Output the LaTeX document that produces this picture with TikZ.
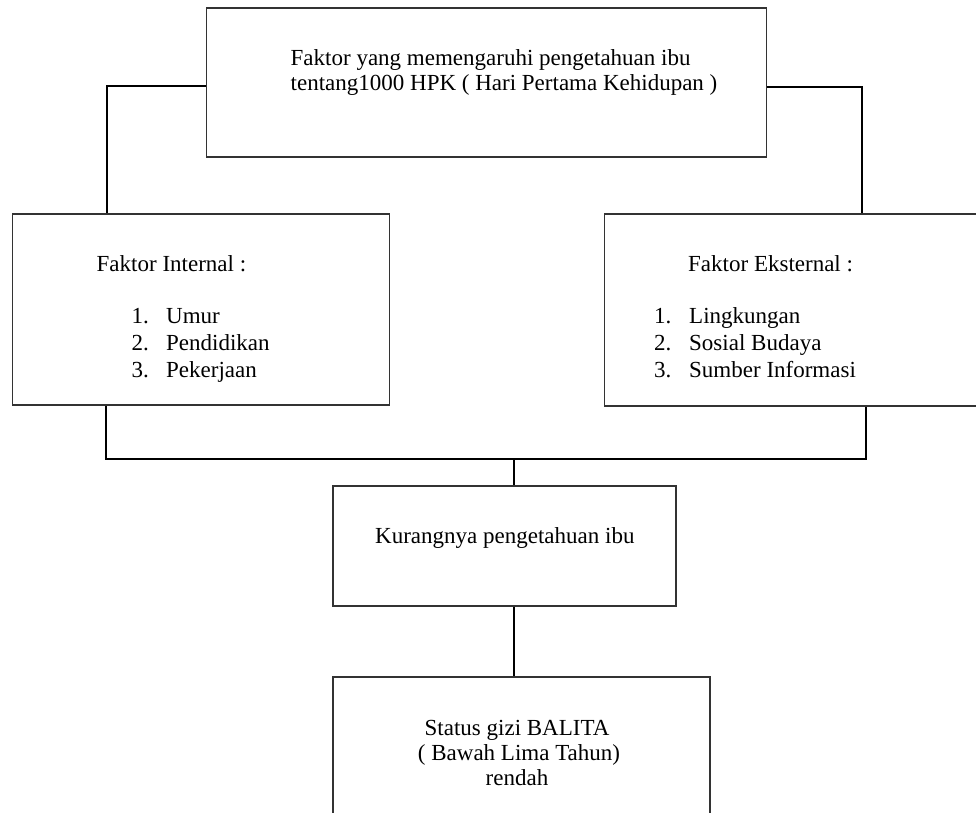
\documentclass[tikz,border=0pt]{standalone}
\usepackage{fontspec}
\setmainfont{Liberation Serif}
\begin{document}
\begin{tikzpicture}[x=1pt,y=-1pt,
  box/.style={draw=black!80,line width=1.2pt,rectangle,inner sep=0pt},
  conn/.style={draw=black,line width=2pt},
  txt/.style={inner sep=0pt,anchor=base west,font=\fontsize{23}{25}\selectfont},
  ctxt/.style={inner sep=0pt,anchor=base,font=\fontsize{23}{25}\selectfont}]
\clip (0,0) rectangle (976,812);
\fill[white] (0,0) rectangle (976,812);
% boxes
\node[box,minimum width=560pt,minimum height=149pt] (top) at (486.5,82.5) {};
\node[box,minimum width=377pt,minimum height=191pt] (left) at (201,309.5) {};
\node[box,minimum width=380pt,minimum height=192pt] (right) at (794.5,310) {};
\node[box,minimum width=343pt,minimum height=120pt] (mid) at (504.5,546) {};
\node[box,minimum width=377pt,minimum height=150pt] (bot) at (521.5,752) {};
% texts
\node[txt] (t1) at (290.5,65) {Faktor yang memengaruhi pengetahuan ibu};
\node[txt] (t2) at (290.5,90) {tentang1000 HPK ( Hari Pertama Kehidupan )};
\node[txt] (li) at (96.5,271.5) {Faktor Internal :};
\node[txt] (ln1) at (131.5,323) {1.};
\node[txt] (ln2) at (131.5,350) {2.};
\node[txt] (ln3) at (131.5,377) {3.};
\node[txt] (la1) at (166,323) {Umur};
\node[txt] (la2) at (166,350) {Pendidikan};
\node[txt] (la3) at (166,377) {Pekerjaan};
\node[txt] (re) at (688,271.5) {Faktor Eksternal :};
\node[txt] (rn1) at (654,323) {1.};
\node[txt] (rn2) at (654,350) {2.};
\node[txt] (rn3) at (654,377) {3.};
\node[txt] (ra1) at (689,323) {Lingkungan};
\node[txt] (ra2) at (689,350) {Sosial Budaya};
\node[txt] (ra3) at (689,377) {Sumber Informasi};
\node[txt] (mt) at (375,543) {Kurangnya pengetahuan ibu};
\node[ctxt] (b1) at (517,735) {Status gizi BALITA};
\node[ctxt] (b2) at (519,760) {( Bawah Lima Tahun)};
\node[ctxt] (b3) at (517,785) {rendah};
% connectors
\coordinate (tl) at (107,86);
\coordinate (tr) at (862,87);
\coordinate (bl) at (106,459);
\coordinate (br) at (866,459);
\coordinate (bm) at (514,459);
\draw[conn] (tl -| top.west) -- (tl) -- (tl |- left.north);
\draw[conn] (tr -| top.east) -- (tr) -- (tr |- right.north);
\draw[conn] (bl |- left.south) -- (bl) -- (br) -- (br |- right.south);
\draw[conn] (bm) -- (bm |- mid.north);
\draw[conn] (bm |- mid.south) -- (bm |- bot.north);
\end{tikzpicture}
\end{document}
